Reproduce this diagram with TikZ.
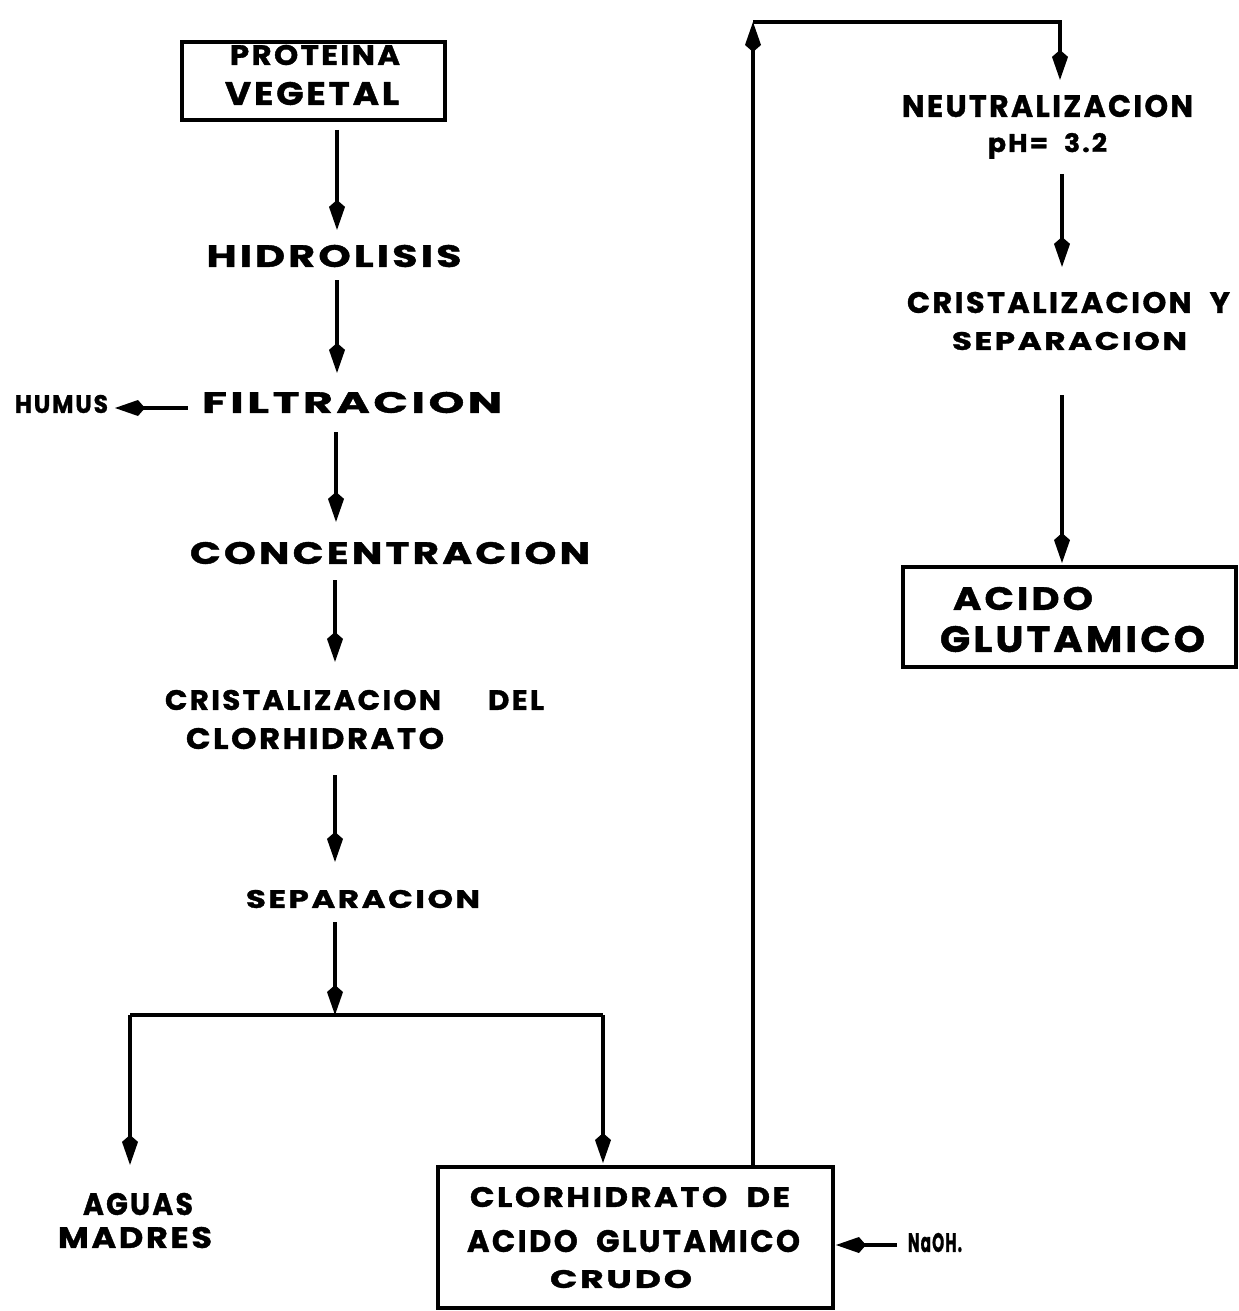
\documentclass[tikz,border=0pt]{standalone}
\usepackage{fontspec}
\usepackage{graphicx}
\setmainfont{Poppins}[FakeBold=1.2]
\usetikzlibrary{arrows.meta}
\newlength\pxu \setlength\pxu{0.02cm}
\newcommand\fitlbl[3]{\resizebox{#1\pxu}{#2\pxu}{\bfseries\addfontfeatures{LetterSpace=8}#3}}
\newcommand\wsp{\hspace{0.6em}}
\tikzset{
  lbl/.style={inner sep=0pt, outer sep=0pt},
  boxnode/.style={draw, line width=0.08cm, inner sep=0pt, rectangle},
  flow/.style={line width=0.08cm, -{Kite[length=0.6cm,width=0.32cm,inset=0.14cm]}},
  plain/.style={line width=0.07cm}
}
\begin{document}
\begin{tikzpicture}[x=0.02cm,y=-0.02cm]
\useasboundingbox[fill=white] (0,0) rectangle (1238,1311);
% left column
\node[boxnode, minimum width=5.26cm, minimum height=1.56cm] (pbox) at (313.5,81) {};
\node[lbl] (prot1) at (315,55) {\fitlbl{170}{20}{PROTEINA}};
\node[lbl] (prot2) at (312,93.5) {\fitlbl{174}{23}{VEGETAL}};
\node[lbl] (hid) at (334,256) {\fitlbl{255}{22}{HIDROLISIS}};
\node[lbl] (filt) at (352,402.5) {\fitlbl{300}{21}{FILTRACION}};
\node[lbl] (humus) at (61.5,404) {\fitlbl{93}{18}{HUMUS}};
\node[lbl] (conc) at (390,553) {\fitlbl{400}{22}{CONCENTRACION}};
\node[lbl] (cris1) at (354.5,700) {\fitlbl{379}{20}{CRISTALIZACION\hspace{1.6em}DEL}};
\node[lbl] (cris2) at (315,738.5) {\fitlbl{258}{21}{CLORHIDRATO}};
\node[lbl] (sep) at (363,899) {\fitlbl{234}{18}{SEPARACION}};
\node[lbl] (aguas) at (138,1204) {\fitlbl{110}{22}{AGUAS}};
\node[lbl] (madres) at (135,1237.5) {\fitlbl{154}{21}{MADRES}};
% crude box
\node[boxnode, minimum width=7.9cm, minimum height=2.82cm] (cbox) at (635.5,1237.5) {};
\node[lbl] (cl1) at (630,1197) {\fitlbl{320}{20}{CLORHIDRATO\wsp DE}};
\node[lbl] (cl2) at (633.5,1241) {\fitlbl{333}{22}{ACIDO\wsp GLUTAMICO}};
\node[lbl] (cl3) at (621,1279) {\fitlbl{142}{18}{CRUDO}};
\node[lbl] (naoh) at (935,1242.5) {\fitlbl{54}{19}{NaOH.}};
% right column
\node[lbl] (neu1) at (1047.5,106) {\fitlbl{291}{22}{NEUTRALIZACION}};
\node[lbl, anchor=base] (neu2) at (1047.5,152) {\fitlbl{119}{19}{pH=\wsp 3.2}};
\node[lbl] (cry1) at (1068.5,302.5) {\fitlbl{323}{21}{CRISTALIZACION\wsp Y}};
\node[lbl] (cry2) at (1069.5,341) {\fitlbl{235}{18}{SEPARACION}};
\node[boxnode, minimum width=6.66cm, minimum height=2cm] (abox) at (1069.5,617) {};
\node[lbl] (ac1) at (1023,598.5) {\fitlbl{140}{23}{ACIDO}};
\node[lbl] (ac2) at (1072.5,639) {\fitlbl{265}{26}{GLUTAMICO}};
% helper coordinates
\coordinate (c1) at (337,0);
\coordinate (c3) at (336,0);
\coordinate (c4) at (335,0);
\coordinate (c5) at (335,0);
\coordinate (c6) at (335,0);
\coordinate (yh) at (0,408);
\coordinate (yn) at (0,1245);
\coordinate (jM) at (335,1015);
\coordinate (jL) at (130,1015);
\coordinate (jR) at (603,1015);
\coordinate (tl) at (753,22);
\coordinate (tr) at (1060,22);
\coordinate (cR) at (1062,0);
% connectors
\draw[flow, shorten <=0.16cm, shorten >=0.3cm] (pbox.south -| c1) -- (hid.north -| c1);
\draw[flow, shorten <=0.26cm, shorten >=0.38cm] (hid.south -| c1) -- (filt.north -| c1);
\draw[flow, shorten <=0.38cm, shorten >=0.4cm] (filt.south -| c3) -- (conc.north -| c3);
\draw[flow, shorten <=0.32cm, shorten >=0.56cm] (conc.south -| c4) -- (cris1.north -| c4);
\draw[flow, shorten <=0.52cm, shorten >=0.56cm] (cris2.south -| c5) -- (sep.north -| c5);
\draw[flow, shorten <=0.28cm] (sep.south -| c6) -- (jM);
\draw[plain] (jL) -- (jR);
\draw[flow, shorten >=0.56cm] (jL) -- (jL |- aguas.north);
\draw[flow, shorten >=0.04cm] (jR) -- (jR |- cbox.north);
\draw[flow, shorten <=0.28cm, shorten >=0.14cm] (filt.west |- yh) -- (humus.east |- yh);
\draw[flow, shorten <=0.22cm, shorten >=0.02cm] (naoh.west |- yn) -- (cbox.east |- yn);
\draw[flow] (cbox.north -| tl) -- (tl);
\draw[flow, shorten >=0.3cm] (tl) -- (tr) -- (tr |- neu1.north);
\draw[flow, shorten <=0.3cm, shorten >=0.5cm] (neu2.south -| cR) -- (cry1.north -| cR);
\draw[flow, shorten <=0.9cm, shorten >=0.04cm] (cry2.south -| cR) -- (abox.north -| cR);
\end{tikzpicture}
\end{document}
